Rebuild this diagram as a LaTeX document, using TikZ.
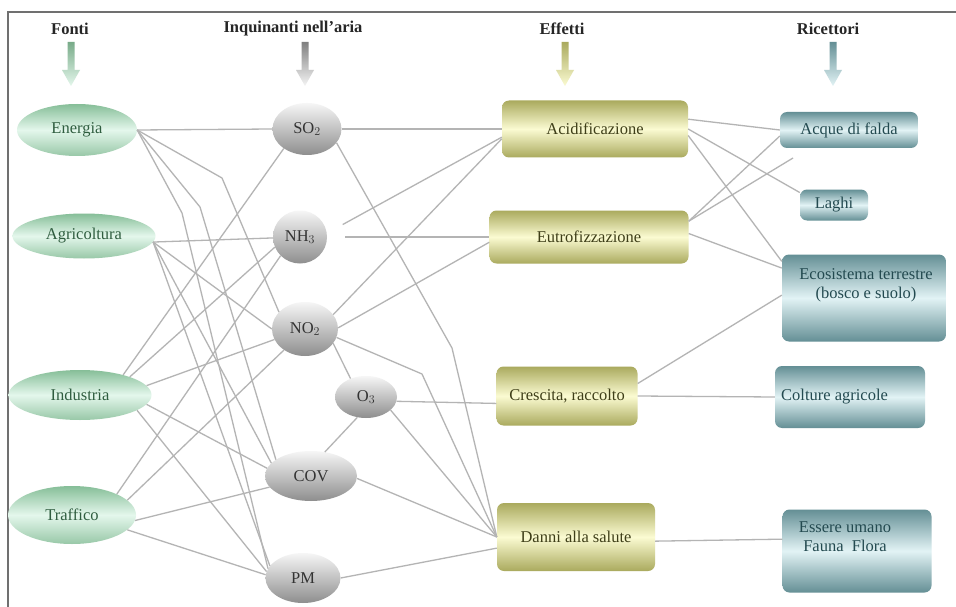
\documentclass[tikz,border=0pt]{standalone}
\usepackage{fontspec}
\setmainfont{Liberation Serif}
\usetikzlibrary{shapes.geometric}
\definecolor{framegray}{HTML}{707070}
\definecolor{linegray}{HTML}{B4B4B4}
\definecolor{srcdark}{HTML}{86BE98}
\definecolor{srclight}{HTML}{E4F7EC}
\definecolor{srctext}{HTML}{2F5D3F}
\definecolor{poltop}{HTML}{F6F6F6}
\definecolor{polbot}{HTML}{8E8E8E}
\definecolor{poltext}{HTML}{333333}
\definecolor{effdark}{HTML}{AAAA5E}
\definecolor{efflight}{HTML}{FBFBD2}
\definecolor{efftext}{HTML}{3E3E18}
\definecolor{recdark}{HTML}{648F95}
\definecolor{reclight}{HTML}{E2F3F5}
\definecolor{rectext}{HTML}{234A50}
\begin{document}
\begin{tikzpicture}[x=1pt,y=-1pt,
  txt/.style={font=\fontsize{16.5}{19}\selectfont},
  src/.style={ellipse, inner sep=0pt, top color=srcdark, bottom color=srcdark!85, middle color=srclight, text=srctext, txt},
  pol/.style={ellipse, inner sep=0pt, top color=poltop, bottom color=polbot, text=poltext, txt},
  eff/.style={rectangle, rounded corners=7pt, inner sep=0pt, top color=effdark, bottom color=effdark, middle color=efflight, text=efftext, txt},
  rec/.style={rectangle, rounded corners=7pt, inner sep=0pt, top color=recdark, bottom color=recdark, middle color=reclight, text=rectext, txt},
  rectxt/.style={inner sep=0pt, text=rectext, txt, align=center},
  head/.style={font=\fontsize{16.5}{19}\selectfont\bfseries, text=black!85},
  conn/.style={draw=linegray, line width=1.3pt}
]
\useasboundingbox (0,0) rectangle (956,607);
\fill[white] (0,0) rectangle (956,607);
\draw[framegray, line width=1.4pt] (8,607) -- (8,12) -- (956,12);

% headers
\node[head] (hf) at (70,29) {Fonti};
\node[head] (hi) at (293,29) {Inquinanti nell'aria};
\node[head] (he) at (562,29) {Effetti};
\node[head] (hr) at (828,29) {Ricettori};

% header arrows
\foreach \x/\ct/\cb in {71/srcdark!90!black/srclight, 305/gray/gray!8, 565/effdark/efflight, 833/recdark/reclight}{
  \path[top color=\ct, bottom color=\cb] (\x-3.5,42) -- (\x+3.5,42) -- (\x+3.5,70) -- (\x+9,70) -- (\x,86) -- (\x-9,70) -- (\x-3.5,70) -- cycle;
}

% sources
\node[src, minimum width=120pt, minimum height=52pt] (en) at (77,130) {Energia};
\node[src, minimum width=143pt, minimum height=45pt] (ag) at (84,236) {Agricoltura};
\node[src, minimum width=143pt, minimum height=50pt] (in) at (80,395) {Industria};
\node[src, minimum width=128pt, minimum height=58pt] (tr) at (72,515) {Traffico};

% pollutants
\node[pol, minimum width=69pt, minimum height=52pt] (so2) at (307,129) {SO$_2$};
\node[pol, minimum width=54pt, minimum height=53pt] (nh3) at (300,237) {NH$_3$};
\node[pol, minimum width=66pt, minimum height=54pt] (no2) at (305,329) {NO$_2$};
\node[pol, minimum width=62pt, minimum height=42pt] (o3) at (366,397) {O$_3$};
\node[pol, minimum width=92pt, minimum height=50pt] (cov) at (311,476) {COV};
\node[pol, minimum width=75pt, minimum height=50pt] (pm) at (303,578) {PM};

% effects (text sits left of centre, as in the reference)
\node[eff, minimum width=186pt, minimum height=57pt] (ac) at (595,129) {Acidificazione\hspace{50pt}};
\node[eff, minimum width=199pt, minimum height=53pt] (eu) at (589,237) {Eutrofizzazione\hspace{20pt}};
\node[eff, minimum width=141pt, minimum height=59pt] (cr) at (567,396) {Crescita, raccolto\hspace{8pt}};
\node[eff, minimum width=158pt, minimum height=68pt] (da) at (576,537) {Danni alla salute\hspace{16pt}};

% receptors
\node[rec, minimum width=138pt, minimum height=36pt] (af) at (849,130) {Acque di falda};
\node[rec, minimum width=68pt, minimum height=31pt] (la) at (834,205) {Laghi\hspace{12pt}};
\node[rec, minimum width=164pt, minimum height=87pt] (ec) at (864,298) {};
\node[rectxt] (ect) at (866,285) {Ecosistema terrestre\\(bosco e suolo)};
\node[rec, minimum width=150pt, minimum height=62pt] (co) at (850,397) {};
\node[rectxt, anchor=west] (cot) at (781,397) {Colture agricole};
\node[rec, minimum width=149pt, minimum height=83pt] (es) at (857,551) {};
\node[rectxt] (est) at (845,537) {Essere umano\\Fauna\ \ Flora};

\coordinate (bE1) at (222,178);
\coordinate (bE2) at (200,207);
\coordinate (bE3) at (182,213);
\coordinate (bS) at (452,348);
\coordinate (bN) at (422,374);
\coordinate (free) at (793,158);

% sources -> pollutants
\path[conn] (en.east) -- (so2.west);
\path[conn] (en.east) -- (bE1) -- (no2.147);
\path[conn] (en.east) -- (bE2) -- (cov.155);
\path[conn] (en.east) -- (bE3) -- (pm.165);
\path[conn] (ag.-5) -- (nh3.182);
\path[conn] (ag.-5) -- (no2.west);
\path[conn] (ag.-5) -- (cov.162);
\path[conn] (ag.-5) -- (pm.160);
\path[conn] (in.25) -- (so2.-140);
\path[conn] (in.20) -- (nh3.-158);
\path[conn] (in.8) -- (no2.-161);
\path[conn] (in.-8) -- (cov.170);
\path[conn] (in.-15) -- (pm.170);
\path[conn] (tr.25) -- (nh3.-136);
\path[conn] (tr.15) -- (no2.-135);
\path[conn] (tr.-5) -- (cov.-165);
\path[conn] (tr.-15) -- (pm.175);

% pollutants -> effects
\path[conn] (so2.east) -- (ac.west);
\path[conn] (so2.-25) -- (bS) -- (da.west);
\path[conn, shorten <=18pt] (nh3.8) -- (ac.-175);
\path[conn, shorten <=18pt] (nh3.east) -- (eu.west);
\path[conn] (no2.27) -- (ac.-174);
\path[conn] (no2.2) -- (eu.-177);
\path[conn] (no2.-27) -- (o3.130);
\path[conn] (no2.-15) -- (bN) -- (da.west);
\path[conn] (o3.-8) -- (cr.-174);
\path[conn] (o3.-28) -- (da.west);
\path[conn] (cov.60) -- (o3.-113);
\path[conn] (cov.-3) -- (da.west);
\path[conn] (pm.east) -- (da.-172);

% effects -> receptors
\path[conn] (ac.6) -- (af.west);
\path[conn] (ac.east) -- (la.160);
\path[conn] (ac.-4) -- (ec.156);
\path[conn] (eu.9) -- (af.-175);
\path[conn] (eu.9) -- (free);
\path[conn] (eu.2) -- (ec.160);
\path[conn] (cr.10) -- (ec.178);
\path[conn] (cr.east) -- (co.west);
\path[conn] (da.-3) -- (es.171);
\end{tikzpicture}
\end{document}
